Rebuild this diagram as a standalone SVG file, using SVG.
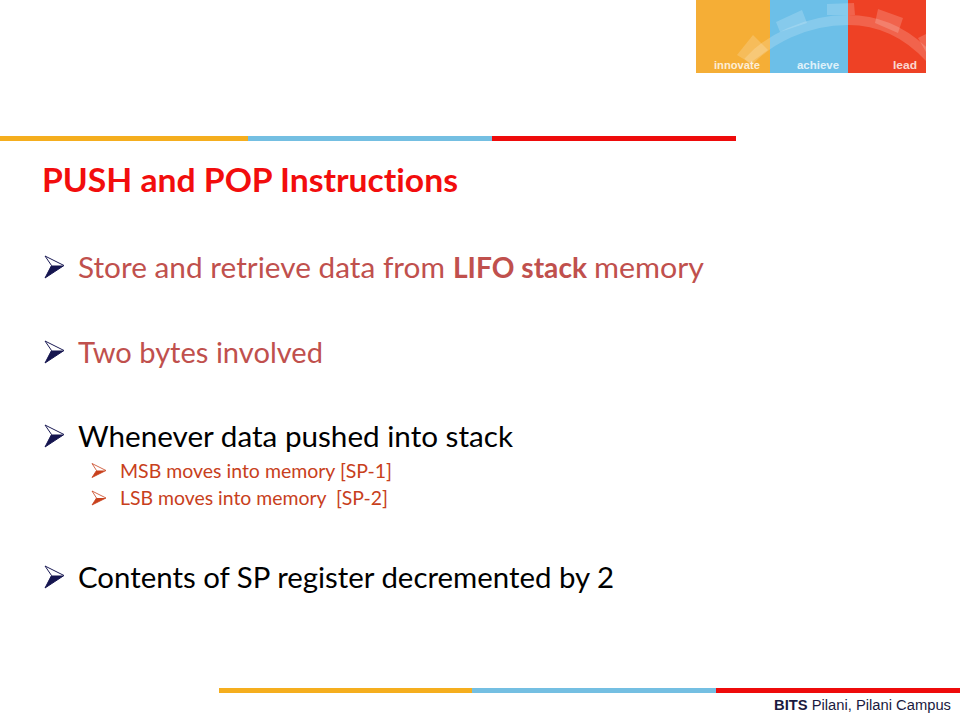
<svg xmlns="http://www.w3.org/2000/svg" width="960" height="720" viewBox="0 0 960 720">
<style>
text{font-family:"Lato","Open Sans","Noto Sans",sans-serif;font-variant-ligatures:none}
.b{font-size:28.5px}
.s{font-size:18.5px;fill:#c8401c}
.r{fill:#c0504d}
.k{fill:#000}
.l{font-family:"Liberation Sans",sans-serif;font-size:11.5px;font-weight:700;fill:#fff;fill-opacity:.8}
</style>
<defs>
<g id="arrow"><path d="M0 0L19 9.500L0 22L6.500 9.500Z" fill="#fff" stroke="#1b1b55" stroke-width="1"/><path d="M0 22L19 9.500L6.500 9.500Z" fill="#15154f"/></g>
<g id="arrow2"><path d="M0 0L14 7L0 14L4.500 7Z" fill="#fff" stroke="#c8401c" stroke-width=".8"/><path d="M0 14L14 7L4.500 7Z" fill="#c8401c"/></g>
<clipPath id="logo"><rect x="696" y="0" width="230" height="73"/></clipPath>
</defs>
<rect width="960" height="720" fill="#fff"/>
<g id="logo-block">
<rect x="696" y="0" width="74" height="73" fill="#f5ae36"/>
<rect x="770" y="0" width="78" height="73" fill="#6cbfe8"/>
<rect x="848" y="0" width="78" height="73" fill="#ee4125"/>
<g clip-path="url(#logo)" fill="#fff" fill-opacity=".18">
<path d="M748 62C768 40 805 20 848 20C880 20 908 34 930 58" fill="none" stroke="#fff" stroke-opacity=".18" stroke-width="10"/>
<path d="M737 55L753 35L768 50L750 63Z"/>
<path d="M776 22L802 10L807 23L780 32Z"/>
<path d="M827 4L854 3L855 15L827 15Z"/>
<path d="M878 9L903 18L898 33L875 23Z"/>
<path d="M918 38L926 34L926 52Z"/>
</g>
<text class="l" x="714" y="69" textLength="46" lengthAdjust="spacingAndGlyphs">innovate</text>
<text class="l" x="797" y="69" textLength="42" lengthAdjust="spacingAndGlyphs">achieve</text>
<text class="l" x="893" y="69" textLength="24" lengthAdjust="spacingAndGlyphs">lead</text>
</g>
<g id="top-rule">
<rect x="0" y="136" width="248" height="5" fill="#f5ae1e"/>
<rect x="248" y="136" width="244" height="5" fill="#74bfe2"/>
<rect x="492" y="136" width="244" height="5" fill="#ee0b0b"/>
</g>
<text id="title" x="42" y="192" font-size="32.500" font-weight="700" fill="#f20d0d" textLength="416" lengthAdjust="spacingAndGlyphs">PUSH and POP Instructions</text>
<g id="bullets">
<use href="#arrow" x="45" y="256"/>
<text class="b r" x="78" y="278"><tspan textLength="367" lengthAdjust="spacingAndGlyphs">Store and retrieve data from</tspan> <tspan x="453" font-weight="700" textLength="134" lengthAdjust="spacingAndGlyphs">LIFO stack</tspan> <tspan x="594" textLength="110" lengthAdjust="spacingAndGlyphs">memory</tspan></text>
<use href="#arrow" x="45" y="341"/>
<text class="b r" x="78" y="363" textLength="245" lengthAdjust="spacingAndGlyphs">Two bytes involved</text>
<use href="#arrow" x="45" y="425"/>
<text class="b k" x="78" y="447" textLength="435" lengthAdjust="spacingAndGlyphs">Whenever data pushed into stack</text>
<use href="#arrow2" x="92" y="463.500"/>
<text class="s" x="120" y="478" textLength="272" lengthAdjust="spacingAndGlyphs">MSB moves into memory [SP-1]</text>
<use href="#arrow2" x="92" y="491"/>
<text class="s" x="120" y="505" textLength="268" lengthAdjust="spacingAndGlyphs" xml:space="preserve">LSB moves into memory  [SP-2]</text>
<use href="#arrow" x="45" y="566"/>
<text class="b k" x="78" y="588" textLength="536" lengthAdjust="spacingAndGlyphs">Contents of SP register decremented by 2</text>
</g>
<g id="bottom-rule">
<rect x="219" y="688" width="253" height="5" fill="#f5ae1e"/>
<rect x="472" y="688" width="244" height="5" fill="#74bfe2"/>
<rect x="716" y="688" width="244" height="5" fill="#ee0b0b"/>
</g>
<text id="footer" x="774" y="710" font-size="14px" fill="#1a1a40" style="font-family:'Liberation Sans',sans-serif" textLength="177" lengthAdjust="spacingAndGlyphs"><tspan font-weight="700">BITS</tspan> Pilani, Pilani Campus</text>
</svg>
